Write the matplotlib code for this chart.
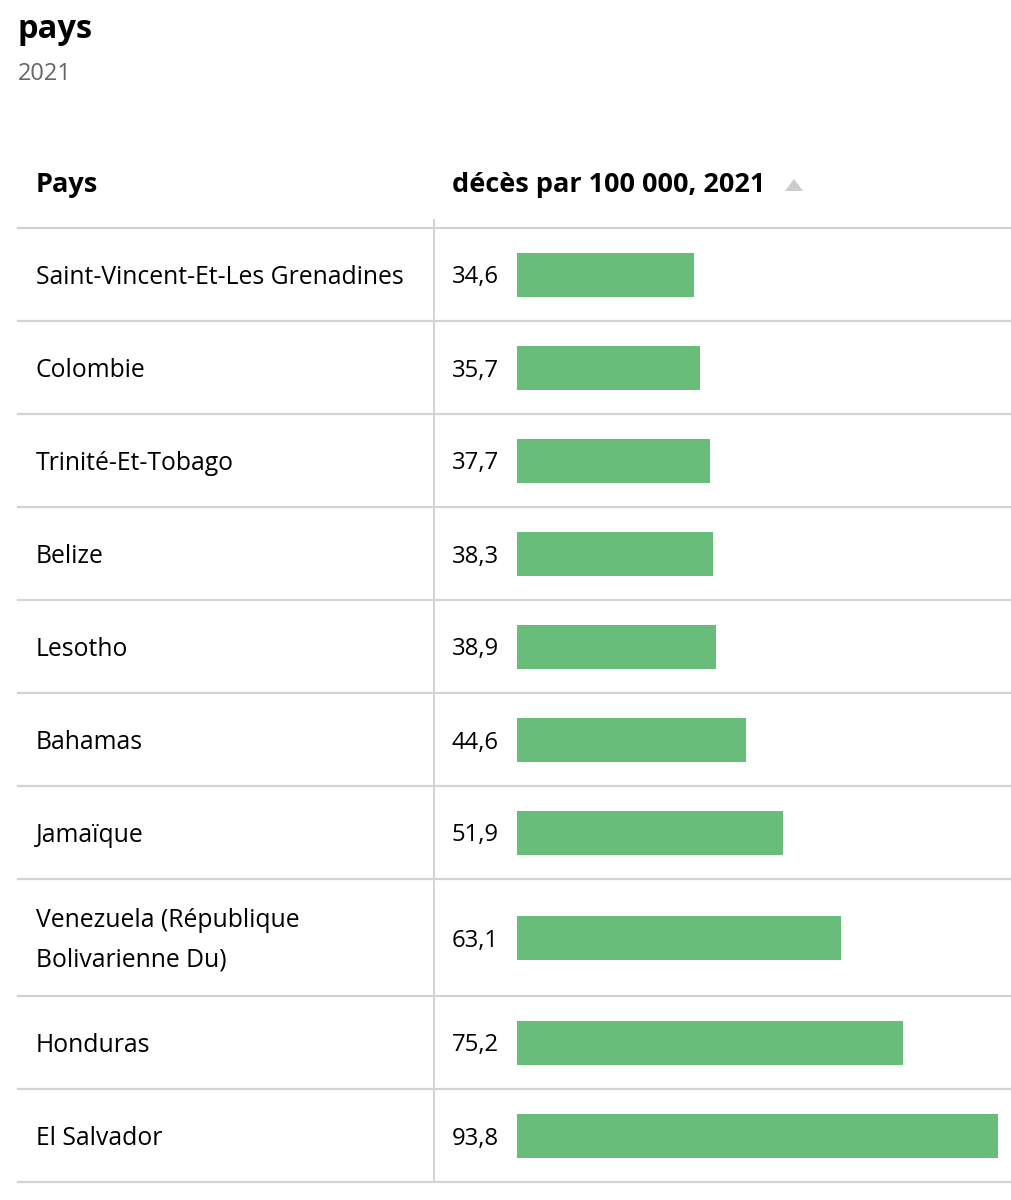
import matplotlib.pyplot as plt
from matplotlib.patches import Polygon

plt.rcParams['font.family'] = ['Open Sans', 'Noto Sans', 'DejaVu Sans']

countries = ['Saint-Vincent-Et-Les Grenadines', 'Colombie', 'Trinité-Et-Tobago',
             'Belize', 'Lesotho', 'Bahamas', 'Jamaïque',
             'Venezuela (République\nBolivarienne Du)', 'Honduras', 'El Salvador']
values = [34.6, 35.7, 37.7, 38.3, 38.9, 44.6, 51.9, 63.1, 75.2, 93.8]
labels = ['34,6', '35,7', '37,7', '38,3', '38,9', '44,6', '51,9', '63,1', '75,2', '93,8']

W, H = 1012, 1200
fig = plt.figure(figsize=(W / 100, H / 100), dpi=100)

# table layer in pixel coordinates
tab = fig.add_axes([0, 0, 1, 1])
tab.set_xlim(0, W)
tab.set_ylim(H, 0)
tab.axis('off')

# bar layer: x from bar start to end of longest bar
x0, x1 = 517, 998
bars = fig.add_axes([x0 / W, 0, (x1 - x0) / W, 1])
bars.set_xlim(0, max(values))
bars.set_ylim(H, 0)
bars.axis('off')

tab.text(18, 29, 'pays', fontsize=23.5, fontweight='bold', va='center', ha='left')
tab.text(18, 74, '2021', fontsize=17, color='#666666', va='center', ha='left')

tab.text(36, 185, 'Pays', fontsize=19.5, fontweight='bold', va='center')
tab.text(452, 185, 'décès par 100 000, 2021', fontsize=19.5, fontweight='bold', va='center')
tab.add_patch(Polygon([[785, 191], [803, 191], [794, 179]], closed=True,
                      color='#cccccc', lw=0))

line_col = '#d3d3d3'
top = 228
tab.plot([18, W], [top, top], color=line_col, lw=1.6)
y = top
centers = []
for name in countries:
    h = 117 if '\n' in name else 93
    c = y + h / 2
    centers.append(c)
    tab.text(36, c + 3, name, fontsize=17.8, va='center', ha='left', linespacing=1.78)
    y += h
    tab.plot([18, W], [y, y], color=line_col, lw=1.6)
tab.plot([434, 434], [220, y - 2], color=line_col, lw=1.4)

for c, lab in zip(centers, labels):
    tab.text(452, c + 3, lab, fontsize=17.2, va='center', ha='left')

bars.barh(centers, values, height=44, left=0, color='#67bd79')

fig.savefig('out.png', dpi=100)
